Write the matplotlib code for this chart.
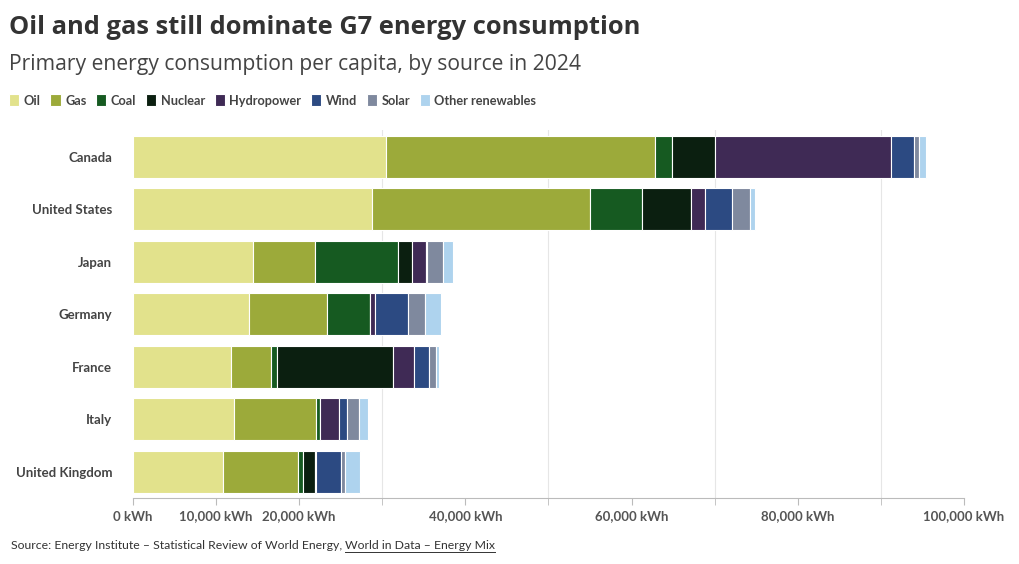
import numpy as np
import matplotlib
matplotlib.use("Agg")
import matplotlib.pyplot as plt

plt.rcParams['font.family'] = ['Lato', 'DejaVu Sans']

countries = ["Canada", "United States", "Japan", "Germany", "France", "Italy", "United Kingdom"]
sources = ["Oil", "Gas", "Coal", "Nuclear", "Hydropower", "Wind", "Solar", "Other renewables"]

# kWh per capita
oil = [30400, 28800, 14500, 14000, 11800, 12100, 10800]
gas = [32400, 26200, 7400, 9300, 4800, 9900, 9000]
coal = [2050, 6300, 10000, 5200, 700, 500, 600]
nuclear = [5200, 5800, 1700, 0, 14000, 0, 1500]
hydro = [21200, 1700, 1650, 600, 2500, 2300, 150]
wind = [2800, 3300, 100, 4000, 1800, 900, 3000]
solar = [600, 2200, 2000, 2100, 850, 1450, 450]
other = [800, 600, 1200, 1850, 400, 1100, 1850]

series = [oil, gas, coal, nuclear, hydro, wind, solar, other]
colors = ["#e2e28c", "#9caa3a", "#165a21", "#0b1f10", "#3f2a55", "#2c4a82", "#7f899e", "#aed3ee"]

xticks = [0, 10000, 20000, 40000, 60000, 80000, 100000]
xticklabels = ["0 kWh", "10,000 kWh", "20,000 kWh", "40,000 kWh", "60,000 kWh", "80,000 kWh", "100,000 kWh"]

fig = plt.figure(figsize=(10.2, 5.64), dpi=100)
ax = fig.add_axes([0.1304, 0.117, 0.8146, 0.6525])

y = np.arange(len(countries))
left = np.zeros(len(countries))
handles = []
for vals, col, name in zip(series, colors, sources):
    v = np.array(vals, dtype=float)
    b = ax.barh(y, v, left=left, height=0.8, color=col, edgecolor="white",
                linewidth=0.8, label=name, zorder=3)
    handles.append(b)
    left += v

ax.set_ylim(6.5, -0.51)
ax.set_xlim(0, 100000)
ax.set_yticks(y)
ax.set_yticklabels(countries, fontsize=9.5, fontweight="bold", color="#444444")
ax.tick_params(axis="y", length=0, pad=15)

ax.set_xticks(np.arange(0, 100001, 10000), minor=True)
ax.grid(axis="x", which="minor", color="#e6e6e6", linewidth=0.8, zorder=0)
ax.set_xticks(xticks)
ax.set_xticklabels(xticklabels, fontsize=9.5, fontweight="bold", color="#555555")
ax.tick_params(axis="x", which="both", length=5, color="#bbbbbb", pad=4)
for s in ["top", "right", "left"]:
    ax.spines[s].set_visible(False)
ax.spines["bottom"].set_color("#bbbbbb")

fig.text(0.009, 0.951, "Oil and gas still dominate G7 energy consumption",
         fontsize=18.35, fontweight="bold", color="#333333", va="center",
         family=["Open Sans", "DejaVu Sans"])
fig.text(0.009, 0.886, "Primary energy consumption per capita, by source in 2024",
         fontsize=15.2, color="#444444", va="center",
         family=["Open Sans", "DejaVu Sans"])

fig.legend(handles=handles, labels=sources, loc="center left",
           bbox_to_anchor=(0.004, 0.822), ncol=8, frameon=False,
           handlelength=0.8, handleheight=1.1,
           handletextpad=0.35, columnspacing=0.76, borderaxespad=0,
           prop={"weight": "bold", "size": 9.2})
for t in fig.legends[0].get_texts():
    t.set_color("#444444")

fig.text(0.011, 0.033, "Source: Energy Institute \u2013 Statistical Review of World Energy, ",
         fontsize=8.8, color="#333333", va="center")
src2 = fig.text(0.34, 0.033, "World in Data \u2013 Energy Mix", fontsize=8.8,
                color="#333333", va="center")

fig.canvas.draw()
r = fig.texts[-2].get_window_extent()
src2.set_x(r.x1 / fig.bbox.width)
r2 = src2.get_window_extent()
fig.add_artist(plt.Line2D([r2.x0 / fig.bbox.width, r2.x1 / fig.bbox.width],
                          [(r2.y0 - 1) / fig.bbox.height] * 2,
                          color="#333333", linewidth=0.7))

fig.savefig("out.png", dpi=100)
